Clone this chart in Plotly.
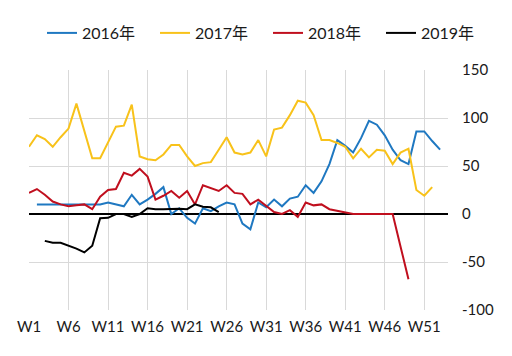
import plotly.graph_objects as go

weeks = [f"W{i}" for i in range(1, 54)]
tick_weeks = ["W1", "W6", "W11", "W16", "W21", "W26", "W31", "W36", "W41", "W46", "W51"]
y_ticks = [150, 100, 50, 0, -50, -100]
y_tick_text = ["150", "100", "50", "0", "-50", "-100"]

s2016 = [None, 10, 10, 10, 10, 10, 10, 10, 10, 10,
         12, 10, 8, 20, 10, 15, 21, 28, 0, 6,
         -4, -10, 6, 3, 8, 12, 10, -10, -16, 12,
         7, 15, 8, 16, 18, 30, 22, 34, 52, 77,
         71, 64, 79, 97, 93, 82, 67, 56, 52, 86,
         86, 76, 67]
s2017 = [70, 82, 78, 70, 80, 89, 115, 87, 58, 58,
         74, 91, 92, 114, 60, 57, 56, 62, 72, 72,
         60, 50, 53, 54, 67, 80, 64, 62, 64, 77,
         60, 88, 90, 103, 118, 116, 103, 77, 77, 74,
         70, 58, 68, 59, 67, 66, 52, 64, 68, 25,
         19, 28, None]
s2018 = [22, 26, 20, 13, 10, 8, 9, 10, 5, 18,
         25, 26, 43, 40, 47, 39, 15, 19, 24, 17,
         24, 10, 30, 27, 24, 30, 22, 21, 10, 15,
         8, 2, 0, 4, -3, 12, 9, 10, 5, 3.5,
         2, 0, 0, 0, 0, 0, 0, -34, -68, None,
         None, None, None]
s2019 = [None, None, -28, -30, -30, -33, -36, -40, -33, -4.5,
         -4, 0, 0, -3, 0, 6, 5, 5, 5.5, 5.5,
         5, 10, 7.5, 7, 2]

series = [
    ("2016年", s2016, "#1F78C1"),
    ("2017年", s2017, "#F8C21A"),
    ("2018年", s2018, "#C00F1E"),
    ("2019年", s2019, "#000000"),
]

# page body has an 8px default margin: figure is drawn 8px in from the window edge
W, H = 504, 348
legend_names = ["legend", "legend2", "legend3", "legend4"]
legend_left = [34, 147, 260, 373]

fig = go.Figure()
for (name, vals, color), lg in zip(series, legend_names):
    fig.add_trace(go.Scatter(
        x=weeks[:len(vals)], y=vals, name=name, mode="lines",
        line=dict(color=color, width=2), connectgaps=False, legend=lg,
    ))

font_family = "Lato, 'Noto Sans CJK SC', sans-serif"
legend_common = dict(
    orientation="h", xref="container", yref="container",
    xanchor="left", y=1 - 25 / H, yanchor="middle",
    font=dict(size=16), bgcolor="rgba(0,0,0,0)", borderwidth=0,
)
layout_legends = {
    lg: dict(legend_common, x=lx / W) for lg, lx in zip(legend_names, legend_left)
}

fig.update_layout(
    width=W, height=H,
    margin=dict(l=21, r=64, t=62, b=46, autoexpand=False),
    paper_bgcolor="white", plot_bgcolor="white",
    font=dict(family=font_family, size=15, color="#1a1a1a"),
    showlegend=True,
    xaxis=dict(
        type="category", categoryorder="array", categoryarray=weeks,
        range=[0, 53], tickmode="array", tickvals=tick_weeks, ticktext=tick_weeks,
        showgrid=True, gridcolor="#D9D9D9", gridwidth=1,
        showline=False, zeroline=False, ticks="", ticklabelstandoff=6,
    ),
    yaxis=dict(
        side="right", range=[-100, 150], tickmode="array",
        tickvals=y_ticks, ticktext=y_tick_text,
        showgrid=True, gridcolor="#D9D9D9", gridwidth=1,
        zeroline=True, zerolinecolor="#000000", zerolinewidth=1.5,
        showline=False, ticks="", ticklabelstandoff=13,
    ),
    **layout_legends,
)

fig.write_html("out.html")
